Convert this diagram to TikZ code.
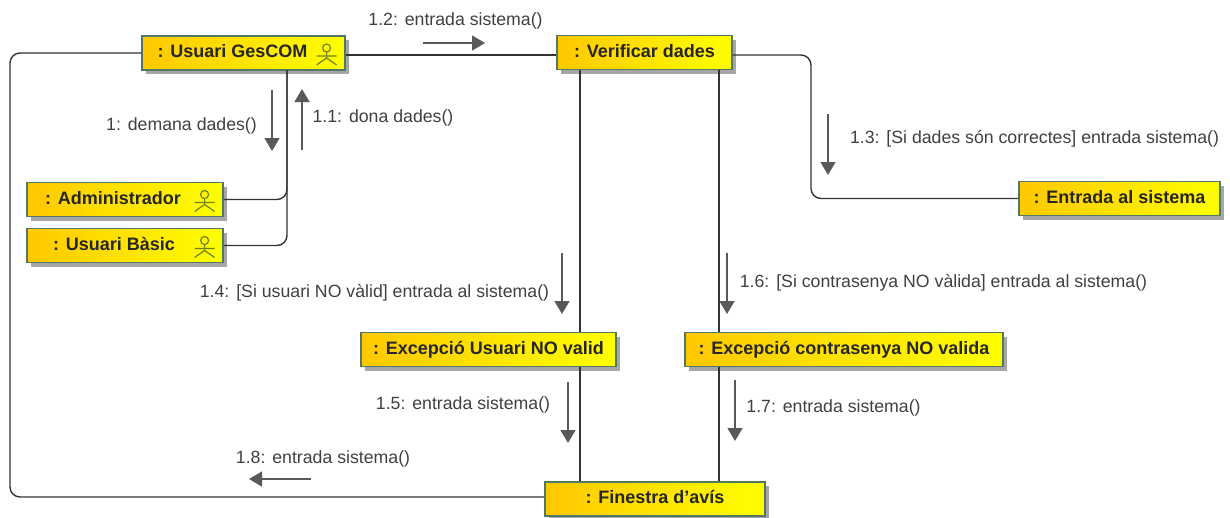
\documentclass[tikz,border=0pt]{standalone}
\usepackage{fontspec}
\setmainfont{Liberation Sans}
\usetikzlibrary{shadows, arrows.meta, calc}

\begin{document}
\begin{tikzpicture}[x=1pt, y=-1pt]
  \newcommand\cornerradius{10pt}

  \definecolor{boxorange}{RGB}{255,200,0}
  \definecolor{boxborder}{RGB}{80,120,100}
  \definecolor{actorgreen}{RGB}{110,130,30}

  \tikzset{objbox/.style={draw=boxborder, line width=1.2pt, left color=boxorange, right color=yellow, inner sep=0pt, minimum height=34pt, font=\fontsize{18}{21}\selectfont\bfseries, text=black!85, drop shadow={shadow xshift=4pt, shadow yshift=-4pt, fill=black!35, opacity=1}}}
  \tikzset{link/.style={line width=1.4pt, black!80, rounded corners=\cornerradius}}
  \tikzset{ptr/.style={-{Triangle[width=15pt, length=13pt]}, line width=1.5pt, black!65}}
  \tikzset{msglbl/.style={inner sep=0pt, font=\fontsize{17.7}{20}\selectfont, text=black!75}}
  \tikzset{actorfig/.pic={
    \draw[actorgreen, line width=1.2pt] (0,-6) circle (4pt) (0,-2) -- (0,4) (-10,2) -- (10,2) (-10,11) -- (0,4) -- (10,11);
  }}

  \useasboundingbox (0,0) rectangle (1230,517);

  % objects
  \foreach \name/\xpos/\ypos/\boxw/\lbl in {usuari/243.5/53/203/{: Usuari GesCOM\hspace{22pt}}, admin/125/199.5/196/{: Administrador\hspace{24pt}}, basic/125/245.5/196/{: Usuari Bàsic\hspace{22pt}}, verificar/644.5/52.5/175/{: Verificar dades}, entrada/1119.5/198.5/201/{: Entrada al sistema}, excusuari/488.5/349.5/255/{: Excepció Usuari NO valid}, exccontra/844/349.5/318/{: Excepció contrasenya NO valida}, finestra/655/499/220/{: Finestra d'avís}}{
    \node[objbox, minimum width=\boxw pt] at (\xpos, \ypos) (\name) {\raisebox{0pt}[0.7em][0.2em]{\lbl}};
  }

  % actor icons
  \foreach \name in {usuari, admin, basic}{
    \pic at ([xshift=-19pt, yshift=-1pt]\name.east) {actorfig};
  }

  % helpers for the rails
  \coordinate (leftrail) at (10, 300);
  \coordinate (rightrail) at (811, 100);
  \coordinate (usuaritap) at (287, 70);
  \coordinate (verifa) at (580, 70);
  \coordinate (verifb) at (719, 70);

  \draw[link] (usuari.west) -| (leftrail) |- ($(finestra.west)+(0,-2)$);
  \draw[link] ($(usuari.east)+(0,2)$) -- ($(verificar.west)+(0,2.5)$);
  \draw[link] ($(verificar.east)+(0,2.5)$) -| (rightrail) |- (entrada.west);
  \draw[link] (usuaritap) |- (basic.east);
  \draw[link] (admin.east) -| (usuaritap);
  \draw[link] (verifa) -- (excusuari.north -| verifa);
  \draw[link] (excusuari.south -| verifa) -- (finestra.north -| verifa);
  \draw[link] (verifb) -- (exccontra.north -| verifb);
  \draw[link] (exccontra.south -| verifb) -- (finestra.north -| verifb);

  % messages
  \foreach \id/\xa/\ya/\xb/\yb in {m12/423/43/485/43, m1/272/90/272/151, m11/302/150/302/89, m13/828/114/828/175, m14/562/253/562/314, m16/727/253/727/314, m15/568/382/568/443, m17/735/380/735/441, m18/311/479/249/479}{
    \coordinate (\id-a) at (\xa, \ya);
    \coordinate (\id-b) at (\xb, \yb);
    \draw[ptr] (\id-a) -- (\id-b);
  }

  \foreach \id/\xpos/\ypos/\lbl in {l12/455.5/21/{1.2:\ \kern2pt entrada sistema()}, l1/181.5/126/{1:\ \kern2pt demana dades()}, l11/383/118/{1.1:\ \kern2pt dona dades()}, l13/1034.5/139/{1.3:\ \kern2pt [Si dades són correctes] entrada sistema()}, l14/374.5/293/{1.4:\ \kern2pt [Si usuari NO vàlid] entrada al sistema()}, l16/943.5/283/{1.6:\ \kern2pt [Si contrasenya NO vàlida] entrada al sistema()}, l15/463/405/{1.5:\ \kern2pt entrada sistema()}, l17/833.5/408/{1.7:\ \kern2pt entrada sistema()}, l18/323/459/{1.8:\ \kern2pt entrada sistema()}}{
    \node[msglbl] at (\xpos, \ypos) (\id) {\lbl};
  }
\end{tikzpicture}
\end{document}
